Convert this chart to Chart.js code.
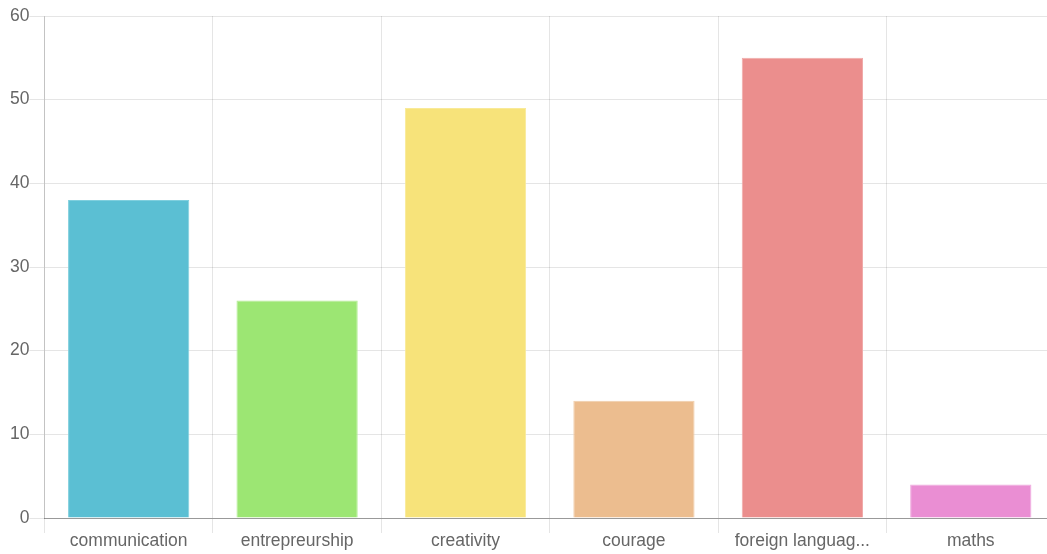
<!DOCTYPE html>
<html>
<head>
<meta charset="utf-8">
<style>
  html, body { margin: 0; padding: 0; background: #fff; overflow: hidden; }
  #skills { display: block; }
</style>
<script src="https://cdn.jsdelivr.net/npm/chart.js@4/dist/chart.umd.min.js"></script>
</head>
<body>
<canvas id="skills" width="1055" height="554"></canvas>
<script>
const categories = ['communication', 'entrepreurship', 'creativity', 'courage', 'foreign languag...', 'maths'];
const counts = [38, 26, 49, 14, 55, 4];
const yTicks = [0, 10, 20, 30, 40, 50, 60];

const fills = ['#5bbfd3', '#9ce673', '#f7e37a', '#ecbd8f', '#eb8e8d', '#ea8ed3'];
const edges = ['#7fcfde', '#b3ec93', '#f9ea98', '#f1ceab', '#f0aaa9', '#efaade'];

Chart.defaults.font.family = "'Liberation Sans', Arial, sans-serif";
Chart.defaults.font.size = 17.5;
Chart.defaults.color = '#666';

const ctx = document.getElementById('skills').getContext('2d');
new Chart(ctx, {
    type: 'bar',
    data: {
        labels: categories,
        datasets: [{
            data: counts,
            backgroundColor: fills,
            borderColor: edges,
            borderWidth: 1
        }]
    },
    options: {
        responsive: false,
        animation: false,
        devicePixelRatio: 1,
        layout: { padding: { left: 10, top: 16, bottom: 0, right: 0 } },
        plugins: {
            legend: { display: false },
            tooltip: { enabled: false }
        },
        scales: {
            x: {
                grid: { color: 'rgba(0,0,0,0.1)', offset: true, tickLength: 15 },
                border: { color: '#999' },
                ticks: { padding: -2 },
                // negative padding is counted twice in fit, give the room back
                afterFit: function (axis) { axis.height += 4; }
            },
            y: {
                min: 0,
                max: 60,
                afterBuildTicks: function (axis) {
                    axis.ticks = yTicks.map(v => ({ value: v }));
                },
                grid: { color: 'rgba(0,0,0,0.1)', tickLength: 15 },
                border: { color: 'rgba(0,0,0,0.15)' },
                ticks: { padding: 0 }
            }
        }
    }
});
</script>
</body>
</html>
